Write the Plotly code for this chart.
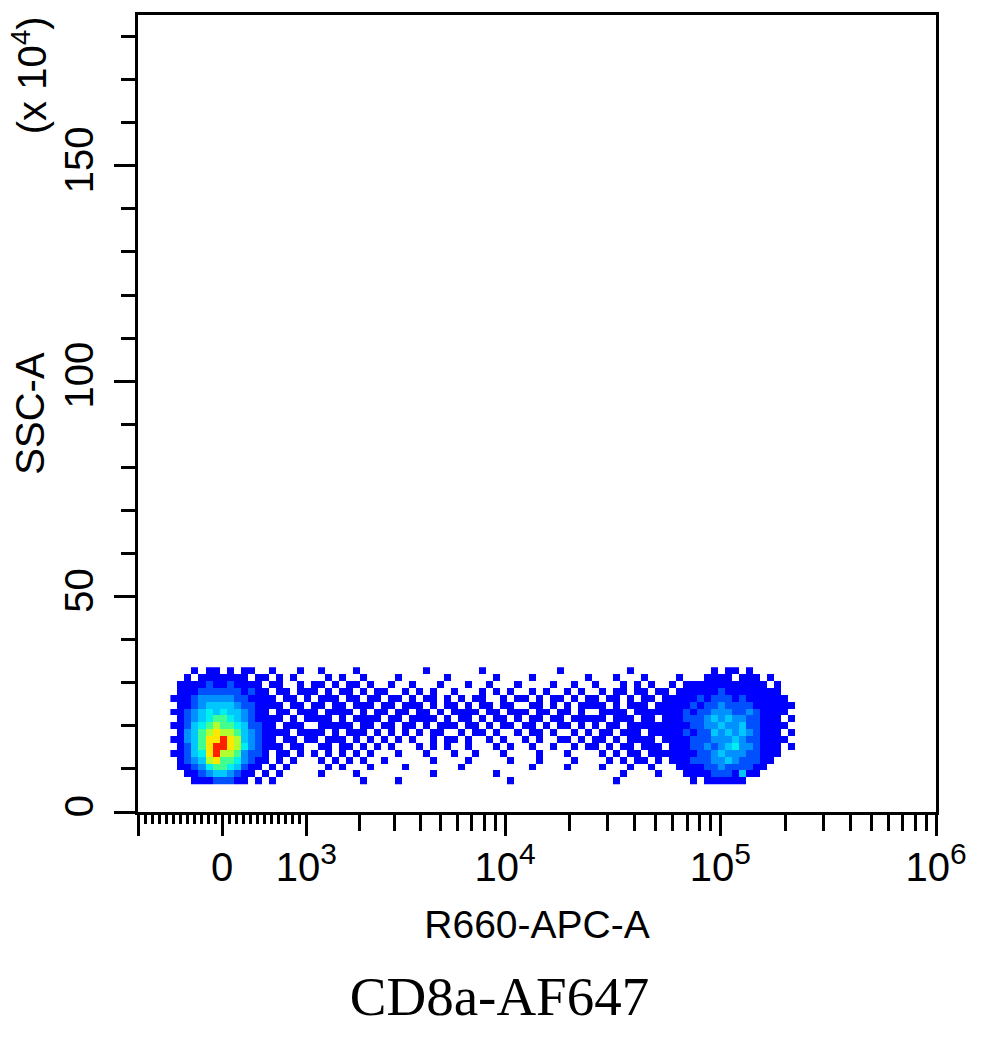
import numpy as np
import plotly.graph_objects as go

# x axis is drawn in display units: d = asinh(v / W)  (logicle-like, linear around 0)
W = 976.0

def disp(v):
    return np.arcsinh(np.asarray(v, dtype=float) / W)

x_lim = [-1000, 1e6]
y_lim = [0, 185]

# density level per cell (0 = empty ... 9 = peak), top row first
# CD8- population around 0
neg_pop = [
    "00010110101100100010",
    "00101111111011010100",
    "01111211211110110010",
    "01112222221211011011",
    "11123333322111101101",
    "01123444432211110110",
    "11234545443211011011",
    "01234566543211110101",
    "11245676654221101110",
    "01346787764321111011",
    "11346889874321101101",
    "01246899875321110110",
    "11245897763221011010",
    "01234786653211010100",
    "01123566542110101000",
    "00112344321101010000",
    "00011122211010100000",
]
# smear just above 10^3
left_smear = [
    "0100001000",
    "0010100100",
    "1101011010",
    "1010110101",
    "0111011011",
    "1101101110",
    "1011110101",
    "1110101111",
    "0111110110",
    "1101011101",
    "1011101010",
    "0110110101",
    "1010101010",
    "0101010100",
    "0010100010",
    "0100001000",
    "0000000100",
]
# intermediate events 10^3.5 .. 10^4.8
mid_smear = [
    "000000100000001000000000010000",
    "001000000100000010000100000001",
    "010010001000100100010000100100",
    "100101010010001010100101001010",
    "011010110101011001011010110101",
    "110111010110101101100110101011",
    "101101101011110110111011011010",
    "011011110101101011010110110111",
    "110110101110110101101101011010",
    "010101011001011010010110100101",
    "101010010110100101001010011010",
    "010001010100100010100100100101",
    "001000100010010001000010001000",
    "100000010000100000100010000100",
    "000100000001000000000100001000",
    "000000010000000010000000000000",
    "001000000000000000100000000000",
]
right_smear = [
    "0000010000",
    "0001000100",
    "1000101010",
    "0101101101",
    "1011010110",
    "1101011101",
    "0111101111",
    "1101110110",
    "1011011111",
    "0110111011",
    "1101011110",
    "1010110111",
    "0101011011",
    "0010101101",
    "0100010010",
    "0000100001",
    "0001000000",
]
# CD8+ population around 10^5
pos_pop = [
    "00000001011010000000",
    "00100011110111010000",
    "01011111111111101000",
    "10111111211111111000",
    "11111212221211111100",
    "11112122322221111110",
    "11121223332232111100",
    "11122234343322111010",
    "11112233433422111100",
    "11121224343432111010",
    "11112223334322111100",
    "01112232345332111010",
    "11111223433322111000",
    "01112223343222110000",
    "00111122322221100000",
    "00011112221411000000",
    "00001011111100000000",
]

level_colors = ["#0000ff", "#0050ff", "#0090ff", "#00c8ff", "#00f0f0",
                "#40ff90", "#b0ff30", "#ffe800", "#ff2000"]

major_vals = [-1000, 0, 1e3, 1e4, 1e5, 1e6]
sup = '<sup><span style="font-size:30px">%d</span></sup>'
major_text = ["", "0", "10" + sup % 3, "10" + sup % 4, "10" + sup % 5, "10" + sup % 6]
decade_minor = [k * 10 ** n for n in (3, 4, 5) for k in range(2, 10)]
n_lin_ticks = 24  # evenly spaced short ticks between -1000 and 10^3

# bin geometry (display units / SSC units)
XBIN0, XBIN = -0.515, 0.075
YBIN0, YBIN = 7.2, 1.6

rows = [a + b + c + d + e for a, b, c, d, e in
        zip(neg_pop, left_smear, mid_smear, right_smear, pos_pop)]
z = [[int(ch) if ch != "0" else None for ch in r] for r in rows[::-1]]

n = len(level_colors)
cscale = []
for i, c in enumerate(level_colors):
    cscale += [[i / n, c], [(i + 1) / n, c]]

fig = go.Figure()
fig.add_trace(go.Heatmap(
    z=z, x0=XBIN0, dx=XBIN, y0=YBIN0, dy=YBIN,
    colorscale=cscale, zmin=0.5, zmax=n + 0.5,
    showscale=False, hoverinfo="skip", xaxis="x", yaxis="y",
))
# empty trace so the overlay axis (short linear ticks) gets drawn
fig.add_trace(go.Scatter(x=[None], y=[None], xaxis="x2", yaxis="y",
                         showlegend=False, hoverinfo="skip"))

sans = "Liberation Sans, Arial, sans-serif"
xr = disp(x_lim).tolist()
lin_ticks = np.linspace(xr[0], disp(1e3), n_lin_ticks + 1)[1:-1]
lin_ticks = [float(t) for t in lin_ticks if abs(t) > 1e-6]

# page body has an 8px margin, so the figure is 8px smaller than the window
fig.update_layout(
    width=983, height=1034,
    margin=dict(l=130, r=55, t=7, b=230),
    paper_bgcolor="white", plot_bgcolor="white",
    font=dict(family=sans, size=40, color="black"),
    showlegend=False,
    title=dict(text="CD8a-AF647", x=0.5, xref="container", xanchor="center",
               y=1 - 988 / 1034, yref="container", yanchor="middle",
               font=dict(family="Liberation Serif, Times New Roman, serif", size=55, color="black")),
    xaxis=dict(
        range=xr, showgrid=False, zeroline=False, automargin=False,
        showline=True, linecolor="black", linewidth=3, mirror=True,
        tickmode="array", tickvals=disp(major_vals).tolist(), ticktext=major_text,
        ticks="outside", ticklen=21, tickwidth=3, tickcolor="black",
        ticklabelstandoff=-3,
        minor=dict(tickmode="array", tickvals=disp(decade_minor).tolist(),
                   ticks="outside", ticklen=16, tickwidth=3, tickcolor="black", showgrid=False),
        title=dict(text="R660-APC-A", standoff=23, font=dict(size=39)),
        tickfont=dict(size=40),
    ),
    xaxis2=dict(
        range=xr, overlaying="x", anchor="y", side="bottom", automargin=False,
        showgrid=False, zeroline=False, showline=False, showticklabels=False,
        tickmode="array", tickvals=lin_ticks,
        ticks="outside", ticklen=11, tickwidth=3, tickcolor="black",
    ),
    yaxis=dict(
        range=y_lim, showgrid=False, zeroline=False, automargin=False,
        showline=True, linecolor="black", linewidth=3, mirror=True,
        tickmode="array", tickvals=[0, 50, 100, 150],
        ticks="outside", ticklen=21, tickwidth=3, tickcolor="black",
        tickangle=-90, ticklabelstandoff=5,
        minor=dict(dtick=10, ticks="outside", ticklen=14, tickwidth=3,
                   tickcolor="black", showgrid=False),
        title=dict(text="SSC-A", standoff=4, font=dict(size=40)),
        tickfont=dict(size=40),
    ),
)

fig.add_annotation(text="(x 10<sup>4</sup>)", textangle=-90, showarrow=False,
                   xref="paper", yref="paper", x=-0.136, y=0.925,
                   xanchor="center", yanchor="middle", font=dict(size=40))

fig.write_html("out.html")
